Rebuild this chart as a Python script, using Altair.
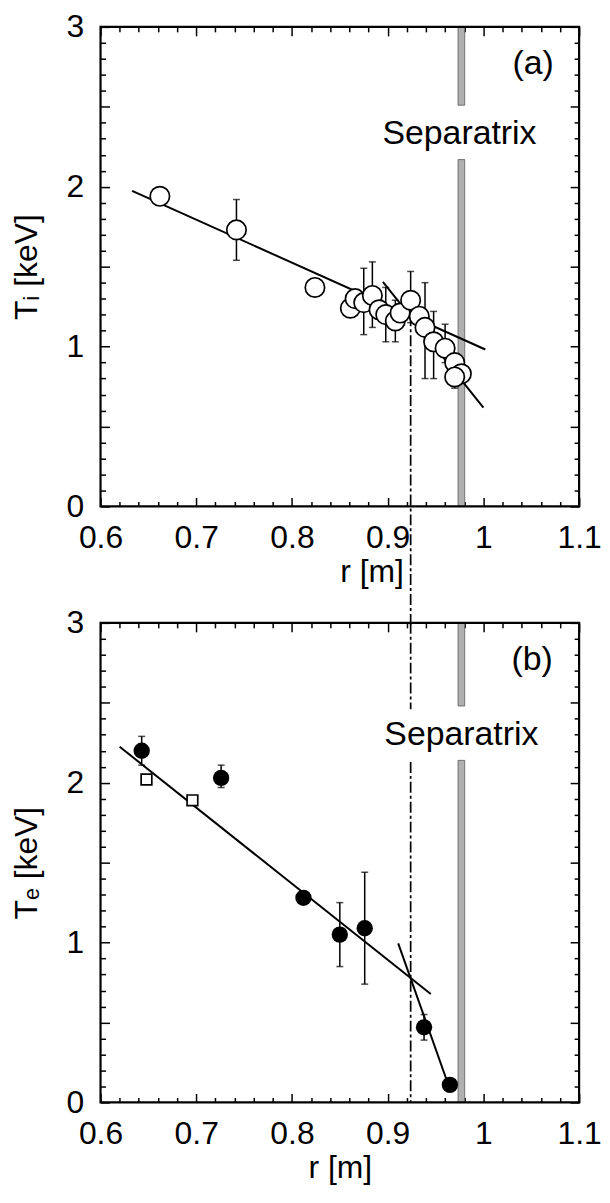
import altair as alt
import pandas as pd

FONT = "Liberation Sans"
FS_LAB = 32
FS_TITLE = 32
FS_TXT = 34

# ---------------- panel (a): ion temperature ----------------
ti_r = [0.662, 0.742, 0.824, 0.861, 0.866, 0.875, 0.884, 0.891, 0.898, 0.908, 0.913,
        0.924, 0.933, 0.939, 0.948, 0.960, 0.970, 0.977, 0.970]
ti_T = [1.94, 1.73, 1.37, 1.24, 1.30, 1.275, 1.32, 1.23, 1.20, 1.16, 1.21,
        1.29, 1.19, 1.12, 1.03, 0.99, 0.90, 0.83, 0.81]
ti_lo = [None, 1.54, None, None, None, 1.075, 1.12, None, 1.03, 1.03, None,
         1.15, None, 0.80, 0.80, 0.90, None, None, 0.74]
ti_hi = [None, 1.92, None, None, None, 1.49, 1.53, None, 1.37, 1.29, None,
         1.47, None, 1.40, 1.22, 1.14, None, None, 0.87]

ti_fit_seg = ["core", "core", "edge", "edge"]
ti_fit_r = [0.633, 1.002, 0.895, 1.000]
ti_fit_T = [1.974, 0.982, 1.405, 0.618]

# ---------------- panel (b): electron temperature ----------------
te_r = [0.643, 0.726, 0.812, 0.850, 0.876, 0.938, 0.965]
te_T = [2.20, 2.03, 1.28, 1.05, 1.09, 0.47, 0.11]
te_lo = [2.11, 1.97, None, 0.85, 0.74, 0.39, None]
te_hi = [2.29, 2.11, None, 1.25, 1.44, 0.55, None]

te_sq_r = [0.648, 0.696]
te_sq_T = [2.02, 1.89]

te_fit_seg = ["core", "core", "edge", "edge"]
te_fit_r = [0.620, 0.945, 0.911, 0.964]
te_fit_T = [2.225, 0.678, 0.995, 0.100]

# ---------------- reference lines ----------------
r_ped = 0.924             # dash-dot line
r_sep = [0.9735, 0.9805]  # separatrix band (left, right)
a_dash_T0 = [1.195]
a_dash_T1 = [-0.74]
b_dash_T0 = [3.0, 2.13]
b_dash_T1 = [2.46, 0.0]
a_sep_T0 = [3.0, 2.17]
a_sep_T1 = [2.51, 0.0]
b_sep_T0 = [3.0, 2.14]
b_sep_T1 = [2.48, 0.0]

# frame of each panel (axis limits)
frame_r = [0.6, 1.1]
frame_T = [0.0, 3.0]

# ---------------- annotations ----------------
a_text = ["Separatrix", "(a)"]
a_text_r = [0.975, 1.052]
a_text_T = [2.33, 2.77]
b_text = ["Separatrix", "(b)"]
b_text_r = [0.977, 1.051]
b_text_T = [2.30, 2.77]

# ---------------- ticks ----------------
x_major = [0.6, 0.7, 0.8, 0.9, 1.0, 1.1]
x_minor = [0.62, 0.64, 0.66, 0.68, 0.72, 0.74, 0.76, 0.78, 0.82, 0.84, 0.86, 0.88,
           0.92, 0.94, 0.96, 0.98, 1.02, 1.04, 1.06, 1.08]
y_major = [0, 0.5, 1, 1.5, 2, 2.5, 3]
y_minor = [0.1, 0.2, 0.3, 0.4, 0.6, 0.7, 0.8, 0.9, 1.1, 1.2, 1.3, 1.4, 1.6, 1.7, 1.8, 1.9,
           2.1, 2.2, 2.3, 2.4, 2.6, 2.7, 2.8, 2.9]

W = 481
H = 482

xs = alt.Scale(domain=[0.6, 1.1], nice=False, zero=False)
ys = alt.Scale(domain=[0, 3], nice=False, zero=False)

common_axis = dict(grid=False, domain=False, labelFont=FONT, titleFont=FONT,
                   labelColor="black", titleColor="black", tickColor="black",
                   tickWidth=1.5, titleFontWeight="normal", labelFlush=False,
                   labelOverlap=False, minExtent=0)


def axis_layers(df, ytitle, title_align):
    layers = []
    major = alt.Chart(df).mark_point(opacity=0).encode(
        x=alt.X("r:Q", scale=xs, title="r [m]",
                axis=alt.Axis(orient="bottom", values=x_major, tickSize=9, offset=-9,
                              labelFontSize=FS_LAB, labelPadding=16,
                              format="~g", titleFontSize=FS_TITLE, titlePadding=3,
                              titleAlign=title_align, **common_axis)),
        y=alt.Y("T:Q", scale=ys, title=ytitle,
                axis=alt.Axis(orient="left", values=y_major, tickSize=9, offset=-9,
                              labelFontSize=FS_LAB, labelPadding=17,
                              format="~g",
                              labelExpr="datum.value % 1 == 0 ? datum.label : ''",
                              titleFontSize=FS_TITLE, titlePadding=23, **common_axis)),
    )
    layers.append(major)
    for xo, yo, vals_x, vals_y, size in [
        ("bottom", "left", x_minor, y_minor, 5),
        ("top", "right", x_major, y_major, 9),
        ("top", "right", x_minor, y_minor, 5),
    ]:
        layers.append(alt.Chart(df).mark_point(opacity=0).encode(
            x=alt.X("r:Q", scale=xs, title=None,
                    axis=alt.Axis(orient=xo, values=vals_x, tickSize=size, offset=-size,
                                  labels=False, **common_axis)),
            y=alt.Y("T:Q", scale=ys, title=None,
                    axis=alt.Axis(orient=yo, values=vals_y, tickSize=size, offset=-size,
                                  labels=False, **common_axis)),
        ))
    return layers


frame_df = pd.DataFrame({"r0": [frame_r[0]], "r1": [frame_r[1]],
                         "T0": [frame_T[0]], "T1": [frame_T[1]]})


def build_panel(pts, err, fit, dash, sep, txt, ytitle, open_circles, title_align,
                squares=None):
    layers = axis_layers(pts, ytitle, title_align)
    layers.append(alt.Chart(sep).mark_rect(fill="#b0b0b0", stroke="#5a5a5a", strokeWidth=0.8).encode(
        x=alt.X("x0:Q", scale=xs, axis=None), x2="x1:Q",
        y=alt.Y("T0:Q", scale=ys, axis=None), y2="T1:Q"))
    layers.append(alt.Chart(dash).mark_rule(color="black", strokeWidth=1.7,
                                            strokeDash=[11, 3, 3, 3]).encode(
        x=alt.X("r:Q", scale=xs, axis=None),
        y=alt.Y("T0:Q", scale=ys, axis=None), y2="T1:Q"))
    layers.append(alt.Chart(fit).mark_line(color="black", strokeWidth=2).encode(
        x=alt.X("r:Q", scale=xs, axis=None),
        y=alt.Y("T:Q", scale=ys, axis=None), detail="seg:N"))
    layers.append(alt.Chart(err).mark_errorbar(ticks=True, size=7, thickness=1.5,
                                               color="black").encode(
        x=alt.X("r:Q", scale=xs, axis=None),
        y=alt.Y("lo:Q", scale=ys, axis=None), y2="hi:Q"))
    if open_circles:
        layers.append(alt.Chart(pts).mark_point(shape="circle", filled=True, fill="white",
                                                stroke="black", strokeWidth=1.7, size=380,
                                                opacity=1).encode(
            x=alt.X("r:Q", scale=xs, axis=None),
            y=alt.Y("T:Q", scale=ys, axis=None)))
    else:
        layers.append(alt.Chart(pts).mark_point(shape="circle", filled=True, color="black",
                                                size=270, opacity=1).encode(
            x=alt.X("r:Q", scale=xs, axis=None),
            y=alt.Y("T:Q", scale=ys, axis=None)))
    if squares is not None:
        layers.append(alt.Chart(squares).mark_point(shape="square", filled=True, fill="white",
                                                    stroke="black", strokeWidth=1.7, size=115,
                                                    opacity=1).encode(
            x=alt.X("r:Q", scale=xs, axis=None),
            y=alt.Y("T:Q", scale=ys, axis=None)))
    layers.append(alt.Chart(txt).mark_text(font=FONT, fontSize=FS_TXT, color="black",
                                           align="center", baseline="middle").encode(
        x=alt.X("r:Q", scale=xs, axis=None),
        y=alt.Y("T:Q", scale=ys, axis=None), text="label:N"))
    # solid frame around the plot area
    layers.append(alt.Chart(frame_df).mark_rect(fill=None, stroke="black", strokeWidth=2.2).encode(
        x=alt.X("r0:Q", scale=xs, axis=None), x2="r1:Q",
        y=alt.Y("T0:Q", scale=ys, axis=None), y2="T1:Q"))
    return alt.layer(*layers).resolve_axis(x="independent", y="independent").properties(
        width=W, height=H)


pts_a = pd.DataFrame({"r": ti_r, "T": ti_T})
err_a = pd.DataFrame({"r": ti_r, "lo": ti_lo, "hi": ti_hi}).dropna()
fit_a = pd.DataFrame({"r": ti_fit_r, "T": ti_fit_T, "seg": ti_fit_seg})
dash_a = pd.DataFrame({"r": [r_ped] * len(a_dash_T0), "T0": a_dash_T0, "T1": a_dash_T1})
sep_a = pd.DataFrame({"x0": [r_sep[0]] * 2, "x1": [r_sep[1]] * 2, "T0": a_sep_T0, "T1": a_sep_T1})
txt_a = pd.DataFrame({"r": a_text_r, "T": a_text_T, "label": a_text})

pts_b = pd.DataFrame({"r": te_r, "T": te_T})
err_b = pd.DataFrame({"r": te_r, "lo": te_lo, "hi": te_hi}).dropna()
sq_b = pd.DataFrame({"r": te_sq_r, "T": te_sq_T})
fit_b = pd.DataFrame({"r": te_fit_r, "T": te_fit_T, "seg": te_fit_seg})
dash_b = pd.DataFrame({"r": [r_ped] * len(b_dash_T0), "T0": b_dash_T0, "T1": b_dash_T1})
sep_b = pd.DataFrame({"x0": [r_sep[0]] * 2, "x1": [r_sep[1]] * 2, "T0": b_sep_T0, "T1": b_sep_T1})
txt_b = pd.DataFrame({"r": b_text_r, "T": b_text_T, "label": b_text})

panel_a = build_panel(pts_a, err_a, fit_a, dash_a, sep_a, txt_a, "T\u1d62 [keV]", True, "left")
panel_b = build_panel(pts_b, err_b, fit_b, dash_b, sep_b, txt_b, "T\u2091 [keV]", False, "center",
                      sq_b)

chart = alt.vconcat(panel_a, panel_b, spacing=117, bounds="flush").properties(
    padding={"left": 2, "top": 0, "right": 0, "bottom": 0}
).configure(font=FONT, background="white").configure_view(stroke=None)

chart.save("out.html", embed_options={"renderer": "svg", "actions": False})
